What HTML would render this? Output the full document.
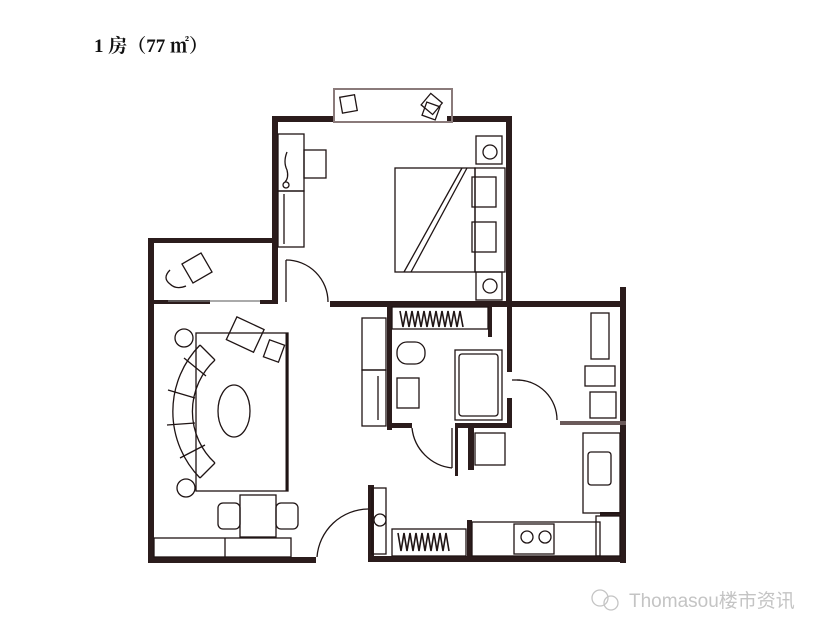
<!DOCTYPE html>
<html><head><meta charset="utf-8"><style>
html,body{margin:0;padding:0;background:#fff}
svg{display:block}
</style></head><body>
<svg width="835" height="636" viewBox="0 0 835 636" xmlns="http://www.w3.org/2000/svg">
<rect width="835" height="636" fill="#fff"/>
<text x="94" y="52" font-family="Liberation Serif, Noto Serif CJK SC, serif" font-size="19" font-weight="bold" fill="#111">1 房（77 ㎡）</text>

<g fill="#2b1c1c">
<rect x="272" y="116" width="63" height="6"/>
<rect x="447" y="116" width="65" height="6"/>
<rect x="272" y="116" width="6" height="188"/>
<rect x="506" y="116" width="6" height="190"/>
<rect x="148" y="238" width="130" height="5"/>
<rect x="148" y="238" width="6" height="325"/>
<rect x="148" y="300" width="62" height="4"/>
<rect x="260" y="300" width="18" height="4"/>
<rect x="148" y="557" width="168" height="6"/>
<rect x="330" y="301" width="296" height="6"/>
<rect x="620" y="287" width="6" height="276"/>
<rect x="368" y="556" width="258" height="6"/>
<rect x="368" y="485" width="6" height="77"/>
<rect x="387" y="307" width="5" height="123"/>
<rect x="387" y="423" width="25" height="5"/>
<rect x="455" y="423" width="57" height="5"/>
<rect x="507" y="307" width="5" height="65"/>
<rect x="507" y="398" width="5" height="30"/>
<rect x="488" y="307" width="4" height="30"/>
<rect x="468" y="428" width="6" height="42"/>
<rect x="455" y="428" width="3" height="48"/>
<rect x="560" y="421" width="66" height="4" fill="#6b5a5a"/>
<rect x="600" y="512" width="26" height="4"/>
<rect x="467" y="520" width="5" height="38"/>
</g>

<g fill="none" stroke="#1f1414" stroke-width="1.3">
<rect x="334" y="89" width="118" height="33" stroke="#8a7a7a" stroke-width="2"/>
<rect x="341" y="96" width="15" height="16" transform="rotate(-10 348 104)"/>
<rect x="424" y="96" width="15" height="15" transform="rotate(40 431 104)"/>
<rect x="424" y="104" width="14" height="14" transform="rotate(20 431 111)"/>
<rect x="278" y="134" width="26" height="57"/>
<rect x="278" y="191" width="26" height="56"/>
<line x1="284" y1="194" x2="284" y2="244"/>
<rect x="304" y="150" width="22" height="28"/>
<path d="M287 152 q-4 10 0 18 q2 8 -2 12"/>
<circle cx="286" cy="185" r="3"/>
<rect x="395" y="168" width="80" height="104"/>
<line x1="462" y1="168" x2="404" y2="272"/>
<line x1="467" y1="168" x2="411" y2="272"/>
<rect x="475" y="168" width="30" height="104"/>
<rect x="472" y="177" width="24" height="30"/>
<rect x="472" y="222" width="24" height="30"/>
<rect x="476" y="136" width="26" height="28"/>
<circle cx="490" cy="152" r="7"/>
<rect x="476" y="272" width="26" height="28"/>
<circle cx="490" cy="286" r="7"/>
<rect x="186" y="257" width="22" height="22" transform="rotate(-30 197 268)"/>
<path d="M170 270 q-8 8 0 14 q6 6 16 2"/>
<line x1="168" y1="301" x2="260" y2="301" stroke="#777"/>
<line x1="286" y1="260" x2="286" y2="302"/>
<path d="M286 260 A42 42 0 0 1 328 302"/>
<rect x="196" y="333" width="92" height="158"/>
<line x1="287" y1="333" x2="287" y2="491" stroke-width="3"/>
<ellipse cx="234" cy="411" rx="16" ry="26"/>
<path d="M200 345 A95 95 0 0 0 200 478"/>
<path d="M215 360 A70 70 0 0 0 215 463"/>
<path d="M200 345 L215 360 M200 478 L215 463"/>
<path d="M184 358 L206 376 M168 390 L195 398 M167 425 L195 423 M180 458 L205 445"/>
<circle cx="184" cy="338" r="9"/>
<circle cx="186" cy="488" r="9"/>
<rect x="230" y="322" width="30" height="25" transform="rotate(25 245 335)"/>
<rect x="266" y="342" width="16" height="18" transform="rotate(20 274 351)"/>
<rect x="240" y="495" width="36" height="42"/>
<rect x="218" y="503" width="22" height="26" rx="5"/>
<rect x="276" y="503" width="22" height="26" rx="5"/>
<rect x="154" y="538" width="137" height="19"/>
<line x1="225" y1="538" x2="225" y2="557"/>
<path d="M317 557 A52 52 0 0 1 368 509"/>
<rect x="392" y="307" width="96" height="22"/>
<path d="M400 311 l3 16 l3 -16 l3 16 l3 -16 l3 16 l3 -16 l3 16 l3 -16 l3 16 l3 -16 l3 16 l3 -16 l3 16 l3 -16 l3 16 l3 -16 l3 16 l3 -16 l3 16 l3 -16 l3 16" stroke-width="1.6"/>
<rect x="362" y="318" width="24" height="52"/>
<rect x="362" y="370" width="24" height="56"/>
<line x1="378" y1="376" x2="378" y2="420"/>
<rect x="397" y="342" width="28" height="22" rx="10"/>
<rect x="397" y="378" width="22" height="30"/>
<rect x="455" y="350" width="47" height="70"/>
<rect x="459" y="354" width="39" height="62" rx="3"/>
<path d="M412 428 A45 45 0 0 0 452 468"/>
<line x1="452" y1="428" x2="452" y2="468"/>
<rect x="475" y="433" width="30" height="32"/>
<line x1="512" y1="380" x2="520" y2="380"/>
<path d="M517 380 A40 40 0 0 1 557 420"/>
<rect x="591" y="313" width="18" height="46"/>
<rect x="585" y="366" width="30" height="20"/>
<rect x="590" y="392" width="26" height="26"/>
<rect x="583" y="433" width="37" height="80"/>
<rect x="588" y="452" width="23" height="33" rx="3"/>
<rect x="472" y="522" width="128" height="34"/>
<rect x="514" y="524" width="40" height="30"/>
<circle cx="527" cy="537" r="6"/>
<circle cx="545" cy="537" r="6"/>
<rect x="596" y="516" width="24" height="40"/>
<rect x="392" y="529" width="74" height="27"/>
<path d="M398 533 l3 18 l3 -18 l3 18 l3 -18 l3 18 l3 -18 l3 18 l3 -18 l3 18 l3 -18 l3 18 l3 -18 l3 18 l3 -18 l3 18 l3 -18 l3 18" stroke-width="1.6"/>
<rect x="372" y="488" width="14" height="66"/>
<circle cx="380" cy="520" r="6"/>
</g>

<g font-family="Liberation Sans, Noto Sans CJK SC, sans-serif" fill="#c4c4c4">
<circle cx="600" cy="598" r="8" fill="none" stroke="#c4c4c4" stroke-width="1.3"/>
<circle cx="611" cy="603" r="7" fill="none" stroke="#c4c4c4" stroke-width="1.3"/>
<text x="629" y="607" font-size="19">Thomasou楼市资讯</text>
</g>
</svg>
</body></html>
